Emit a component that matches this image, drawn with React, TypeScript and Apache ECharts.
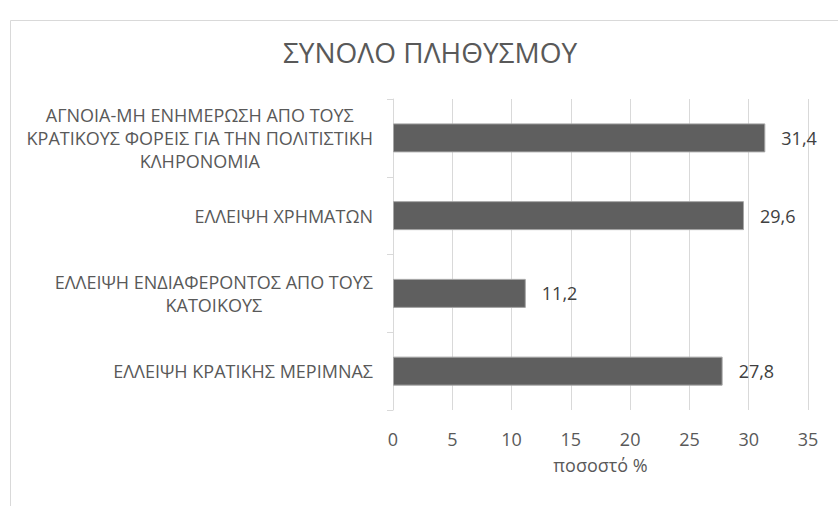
import React, { useEffect, useRef } from "react";
import * as echarts from "echarts";

const title = "ΣΥΝΟΛΟ ΠΛΗΘΥΣΜΟΥ";
const categories = [
  "ΕΛΛΕΙΨΗ ΚΡΑΤΙΚΗΣ ΜΕΡΙΜΝΑΣ",
  "ΕΛΛΕΙΨΗ ΕΝΔΙΑΦΕΡΟΝΤΟΣ ΑΠΟ ΤΟΥΣ\nΚΑΤΟΙΚΟΥΣ",
  "ΕΛΛΕΙΨΗ ΧΡΗΜΑΤΩΝ",
  "ΑΓΝΟΙΑ-ΜΗ ΕΝΗΜΕΡΩΣΗ ΑΠΟ ΤΟΥΣ\nΚΡΑΤΙΚΟΥΣ ΦΟΡΕΙΣ ΓΙΑ ΤΗΝ ΠΟΛΙΤΙΣΤΙΚΗ\nΚΛΗΡΟΝΟΜΙΑ",
];
const values = [27.8, 11.2, 29.6, 31.4];
const xAxisName = "ποσοστό %";

export default function App() {
  const ref = useRef<HTMLDivElement>(null);
  useEffect(() => {
    if (!ref.current) return;
    const chart = echarts.init(ref.current, null, { renderer: "svg" });
    const font = "'Open Sans', 'Noto Sans', sans-serif";
    chart.setOption({
      animation: false,
      backgroundColor: "#ffffff",
      textStyle: { fontFamily: font },
      title: {
        text: title,
        left: 425,
        top: 33,
        textAlign: "center",
        textStyle: { fontFamily: font, fontSize: 28, fontWeight: "normal", color: "#595959" },
      },
      graphic: [
        {
          type: "rect",
          shape: { x: 10.5, y: 20.5, width: 1000, height: 700 },
          style: { fill: "none", stroke: "#d9d9d9", lineWidth: 1 },
          silent: true,
        },
      ],
      grid: { left: 393, right: 30, top: 99, bottom: 96, containLabel: false },
      xAxis: {
        type: "value",
        min: 0,
        max: 35,
        interval: 5,
        name: xAxisName,
        nameLocation: "middle",
        nameGap: 46,
        nameTextStyle: { fontFamily: font, fontSize: 18, color: "#595959" },
        axisLine: { show: false },
        axisTick: { show: false },
        axisLabel: { margin: 20, fontFamily: font, fontSize: 18, color: "#595959" },
        splitLine: { show: true, lineStyle: { color: "#d9d9d9", width: 1 } },
      },
      yAxis: {
        type: "category",
        data: categories,
        axisLine: { show: true, lineStyle: { color: "#d9d9d9", width: 1 } },
        axisTick: { show: true, length: 6, lineStyle: { color: "#d9d9d9" } },
        axisLabel: {
          margin: 20,
          fontFamily: font,
          fontSize: 18,
          color: "#595959",
          lineHeight: 23,
          formatter: (v: string) =>
            v
              .split("\n")
              .map((l) => `{c|${l}}`)
              .join("\n"),
          rich: {
            c: { align: "center", fontFamily: font, fontSize: 18, color: "#595959", lineHeight: 23 },
          },
        },
        splitLine: { show: false },
      },
      series: [
        {
          type: "bar",
          data: values,
          barWidth: 29,
          itemStyle: { color: "#5f5f5f", borderColor: "#a6a6a6", borderWidth: 1 },
          label: {
            show: true,
            position: "right",
            distance: 16,
            fontFamily: font,
            fontSize: 18,
            color: "#404040",
            formatter: (p: any) => String(p.value).replace(".", ","),
          },
        },
      ],
    });
    return () => chart.dispose();
  }, []);
  return (
    <div
      ref={ref}
      style={{ position: "fixed", left: 0, top: 0, width: 838, height: 506 }}
    />
  );
}
